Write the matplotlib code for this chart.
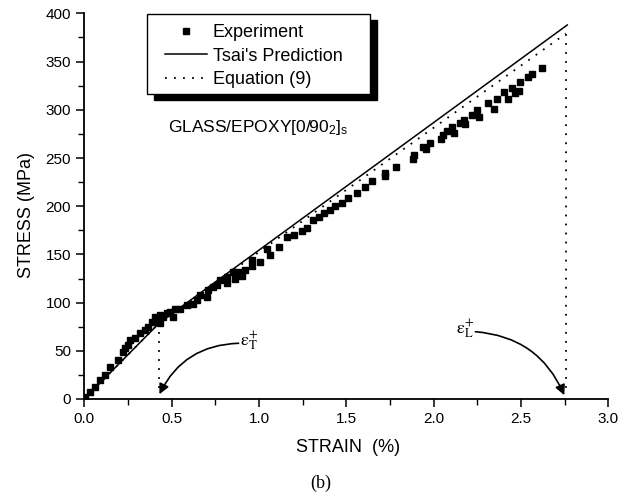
import matplotlib
matplotlib.use("Agg")
import matplotlib.pyplot as plt
from matplotlib.patches import Rectangle
import numpy as np

plt.rcParams["font.family"] = ["Liberation Sans", "DejaVu Sans"]
plt.rcParams["mathtext.fontset"] = "custom"
plt.rcParams["mathtext.rm"] = "Liberation Sans"
plt.rcParams["mathtext.it"] = "Liberation Sans:italic"

# experimental points (strain %, stress MPa)
exp_strain = [0.004, 0.033, 0.061, 0.090, 0.119, 0.147, 0.195, 0.224, 0.233, 0.252,
              0.262, 0.291, 0.319, 0.348, 0.367, 0.386, 0.405, 0.415, 0.434, 0.434,
              0.453, 0.472, 0.491, 0.510, 0.520, 0.548, 0.587, 0.625, 0.644, 0.663,
              0.701, 0.711, 0.739, 0.759, 0.778, 0.816, 0.816, 0.854, 0.864, 0.883,
              0.902, 0.921, 0.959, 0.959, 1.007, 1.045, 1.064, 1.117, 1.160, 1.198,
              1.246, 1.274, 1.312, 1.341, 1.370, 1.408, 1.437, 1.475, 1.509, 1.564,
              1.605, 1.647, 1.719, 1.723, 1.786, 1.882, 1.889, 1.939, 1.958, 1.977,
              2.042, 2.054, 2.077, 2.105, 2.115, 2.153, 2.176, 2.178, 2.220, 2.250,
              2.258, 2.312, 2.348, 2.363, 2.405, 2.424, 2.449, 2.464, 2.491, 2.493,
              2.541, 2.564, 2.621]
exp_stress = [2.4, 7.6, 12.8, 19.7, 25, 33, 40.5, 49, 52.6, 56,
              61, 63, 68, 71.6, 75, 80, 85.4, 80, 87, 78.5,
              85.4, 89, 90.6, 85.4, 93, 93, 97.5, 99, 102.7, 108,
              106, 113, 116, 118, 123.4, 127, 120, 132, 124, 132,
              127.6, 134, 144, 138, 142.4, 156, 149, 158, 168.4, 170,
              174.6, 177, 185.7, 189, 192.6, 196, 200, 203, 208, 214,
              220, 226, 231, 234, 241, 249, 253.4, 261, 259, 266,
              269.4, 274, 278.3, 282.5, 276, 286, 289.4, 285, 294.6, 299.8,
              292.8, 306.7, 301, 311, 318, 311, 323, 317, 319.5, 329,
              334, 336.8, 343]

# Tsai's prediction and Equation (9)
tsai_strain = [0.0, 0.43, 2.765]
tsai_stress = [0.0, 79, 388]
eq9_strain = [0.0, 0.43, 2.757]
eq9_stress = [0.0, 79, 379]

# failure strains
eps_t = 0.43
eps_l = 2.757

fig = plt.figure(figsize=(6.34, 4.99), dpi=100)
ax = fig.add_axes([84.3 / 634, 100 / 499, 524 / 634, 385.6 / 499])

ax.plot(exp_strain, exp_stress, "s", color="black", ms=4.6, label="Experiment")
ax.plot(tsai_strain, tsai_stress, "-", color="black", lw=1.1, label="Tsai's Prediction")
ax.plot(eq9_strain, eq9_stress, color="black", lw=1.3, ls=(0, (1, 4)), label="Equation (9)")

# vertical dotted lines at failure strains
ax.plot([eps_t, eps_t], [79, 5], color="black", lw=1.3, ls=(0, (1, 4)))
ax.plot([eps_l, eps_l], [379, 4], color="black", lw=1.3, ls=(0, (1, 4)))

ax.set_xlim(0, 3.0)
ax.set_ylim(0, 400)
ax.set_xticks(np.arange(0, 3.01, 0.5))
ax.set_xticks(np.arange(0, 3.01, 0.25), minor=True)
ax.set_yticks(np.arange(0, 401, 50))
ax.set_yticks(np.arange(0, 401, 25), minor=True)
ax.xaxis.set_major_formatter(matplotlib.ticker.FormatStrFormatter("%.1f"))
ax.tick_params(which="major", direction="out", length=6, width=1.1, labelsize=11)
ax.tick_params(which="minor", direction="out", length=4, width=1.0)
ax.spines["top"].set_visible(False)
ax.spines["right"].set_visible(False)
ax.spines["left"].set_linewidth(1.3)
ax.spines["bottom"].set_linewidth(1.3)

ax.set_xlabel("STRAIN  (%)", fontsize=13)
ax.set_ylabel("STRESS (MPa)", fontsize=13)
ax.xaxis.set_label_coords(0.504, -0.104)
ax.yaxis.set_label_coords(-0.095, 0.476)

# legend box with black shadow
sh = Rectangle((0.133, 0.775), 0.425, 0.207, transform=ax.transAxes,
               facecolor="black", edgecolor="black", clip_on=False, zorder=4)
box = Rectangle((0.120, 0.791), 0.425, 0.207, transform=ax.transAxes,
                facecolor="white", edgecolor="black", lw=1.0, clip_on=False, zorder=5)
ax.add_patch(sh)
ax.add_patch(box)
leg = ax.legend(loc="upper left", bbox_to_anchor=(0.154, 0.972), frameon=False,
                fontsize=13, numpoints=1, handlelength=2.3, handletextpad=0.35,
                labelspacing=0.36, borderpad=0, borderaxespad=0)
leg.set_zorder(6)

ax.text(0.160, 0.703, r"GLASS/EPOXY[0/90$_{\mathrm{2}}$]$_{\mathrm{s}}$", transform=ax.transAxes,
        fontsize=12.5, ha="left", va="center", math_fontfamily="custom")

# failure strain annotations
ax.annotate("", xy=(eps_t, 5), xytext=(0.883, 57.8),
            arrowprops=dict(arrowstyle="-|>", color="black", lw=1.2,
                            mutation_scale=15, connectionstyle="arc3,rad=0.3",
                            shrinkA=0, shrinkB=0))
ax.text(0.89, 60, r"$\mathrm{\varepsilon}^{+}_{\mathrm{T}}$", fontsize=13, ha="left", va="center",
        math_fontfamily="stix")
ax.annotate("", xy=(2.748, 4), xytext=(2.239, 69.8),
            arrowprops=dict(arrowstyle="-|>", color="black", lw=1.2,
                            mutation_scale=15, connectionstyle="arc3,rad=-0.3",
                            shrinkA=0, shrinkB=0))
ax.text(2.23, 72, r"$\mathrm{\varepsilon}^{+}_{\mathrm{L}}$", fontsize=13, ha="right", va="center",
        math_fontfamily="stix")

fig.text(321 / 634, 1 - 483 / 499, "(b)", fontsize=13, ha="center", va="center",
         family="Liberation Serif")

fig.savefig("out.png", dpi=100)
